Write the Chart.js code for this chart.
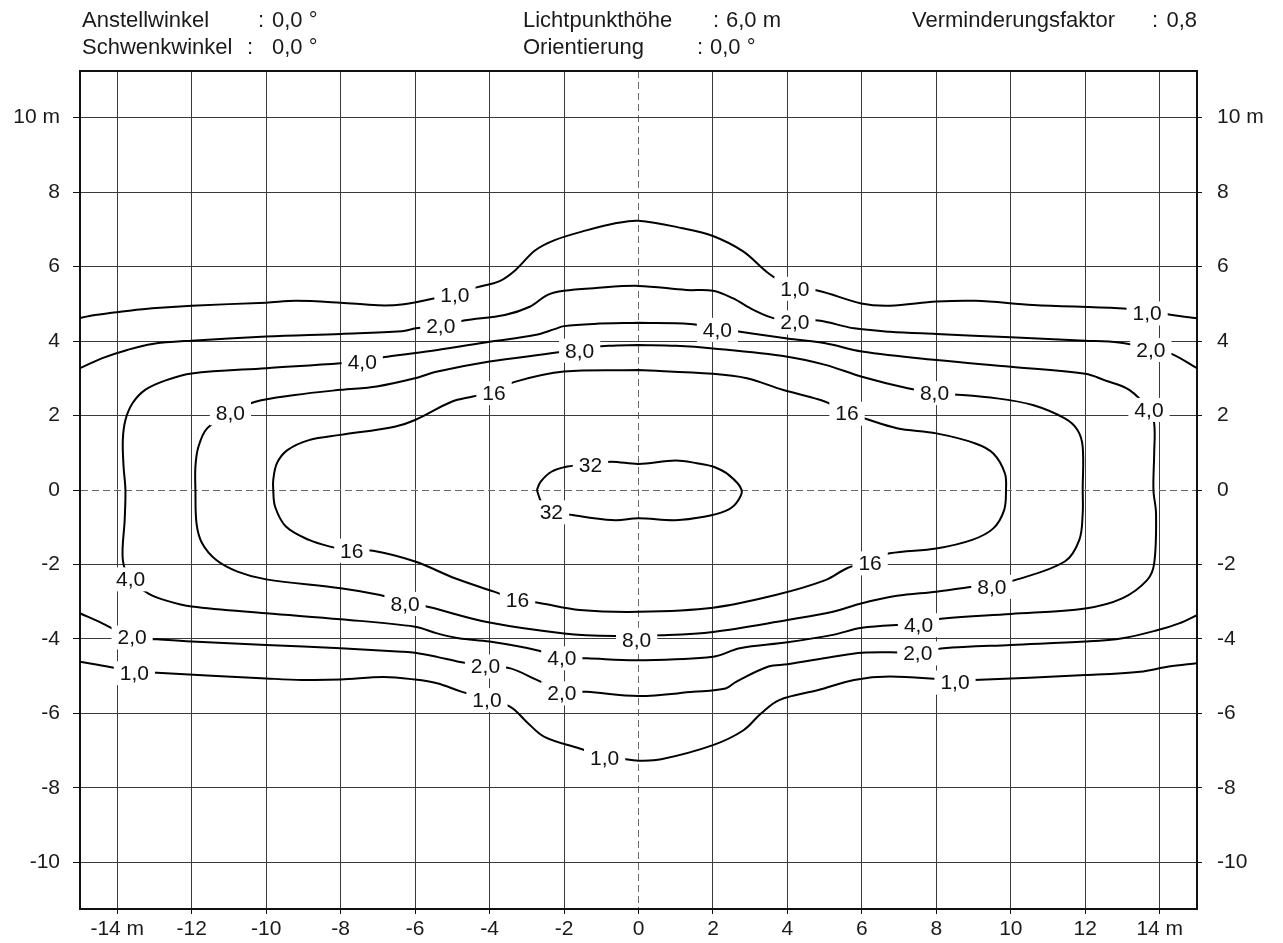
<!DOCTYPE html>
<html lang="de">
<head>
<meta charset="utf-8">
<title>Isolux-Diagramm</title>
<script src="https://cdn.jsdelivr.net/npm/chart.js@4.4.1/dist/chart.umd.min.js"></script>
<style>
  html, body { margin: 0; padding: 0; background: #fff; }
  #wrap { position: relative; width: 1283px; height: 943px; }
  #wrap canvas { position: absolute; left: 0; top: 0; }
  .hd { position: absolute; font: 22px "Liberation Sans", Arial, sans-serif; line-height: 22px; color: #1a1a1a; white-space: pre; }
</style>
</head>
<body>
<div id="wrap">
  <canvas id="iso" width="1283" height="943"></canvas>
  <div class="hd" style="left:82px;top:9px">Anstellwinkel</div>
  <div class="hd" style="left:258px;top:9px">:</div>
  <div class="hd" style="left:272px;top:9px">0,0 °</div>
  <div class="hd" style="left:82px;top:36px">Schwenkwinkel</div>
  <div class="hd" style="left:247px;top:36px">:</div>
  <div class="hd" style="left:272px;top:36px">0,0 °</div>
  <div class="hd" style="left:523px;top:9px">Lichtpunkthöhe</div>
  <div class="hd" style="left:713px;top:9px">:</div>
  <div class="hd" style="left:726px;top:9px">6,0 m</div>
  <div class="hd" style="left:523px;top:36px">Orientierung</div>
  <div class="hd" style="left:697px;top:36px">:</div>
  <div class="hd" style="left:710px;top:36px">0,0 °</div>
  <div class="hd" style="left:912px;top:9px">Verminderungsfaktor</div>
  <div class="hd" style="left:1152px;top:9px">:</div>
  <div class="hd" style="right:86px;top:9px">0,8</div>
</div>
<script>
// Achsen
const xTicks = [-14, -12, -10, -8, -6, -4, -2, 0, 2, 4, 6, 8, 10, 12, 14];
const yTicks = [-10, -8, -6, -4, -2, 0, 2, 4, 6, 8, 10];

// Isolinien (x, y in m)
const c1Top = [[-15,4.62],[-14.6,4.70],[-13.8,4.80],[-13.06,4.88],[-12,4.95],[-10,5.03],[-9.2,5.08],[-8,5.03],[-7,4.96],[-6.36,4.98],[-5.6,5.12],[-4.93,5.26],[-4.35,5.44],[-3.73,5.61],[-3.3,5.91],[-2.78,6.43],[-2.25,6.71],[-1.4,6.97],[-0.62,7.16],[0,7.23],[1.18,7.03],[2,6.82],[2.82,6.4],[3.49,5.82],[4.16,5.42],[4.83,5.35],[5.98,5.01],[6.75,4.95],[8,5.06],[9.05,5.08],[10.6,4.97],[12.9,4.88],[13.66,4.80],[14.33,4.70],[15,4.61]];
const c1Bottom = [[-15,-4.61],[-14.2,-4.75],[-13.54,-4.88],[-12.93,-4.91],[-10,-5.06],[-9.04,-5.1],[-8,-5.09],[-6.84,-5.02],[-6,-5.09],[-5.41,-5.19],[-4.74,-5.42],[-4.07,-5.62],[-3.44,-5.82],[-3.01,-6.22],[-2.54,-6.62],[-1.58,-6.94],[-0.91,-7.15],[-0.19,-7.25],[0,-7.27],[0.61,-7.23],[2,-6.85],[2.82,-6.45],[3.29,-6.0],[3.78,-5.64],[4.83,-5.37],[5.79,-5.1],[6.75,-5.01],[8.4,-5.1],[9.01,-5.1],[12,-4.97],[13.47,-4.88],[14.24,-4.74],[15,-4.65]];
const c2Top = [[-15,3.27],[-14.4,3.54],[-13.73,3.76],[-13.06,3.92],[-12,4.01],[-10,4.12],[-8,4.19],[-6.36,4.26],[-5.98,4.34],[-5.31,4.42],[-4.69,4.55],[-3.59,4.7],[-2.92,4.92],[-2.44,5.24],[-2,5.35],[-1.2,5.42],[0,5.48],[1.28,5.37],[2,5.35],[2.53,5.15],[3.1,4.83],[3.7,4.6],[4.83,4.55],[5.79,4.34],[6.75,4.25],[8,4.19],[10,4.1],[12,4.01],[12.9,3.96],[13.76,3.8],[14.33,3.65],[15,3.27]];
const c2Bottom = [[-15,-3.31],[-14.4,-3.58],[-13.6,-3.96],[-12.93,-4.01],[-12,-4.07],[-10,-4.16],[-8,-4.25],[-6.36,-4.34],[-6,-4.37],[-5.41,-4.48],[-4.83,-4.61],[-4.11,-4.72],[-3.44,-4.79],[-2.73,-5.1],[-2.06,-5.4],[-1.39,-5.42],[0,-5.53],[1.47,-5.42],[2.34,-5.33],[2.62,-5.15],[3.49,-4.74],[4,-4.68],[5.22,-4.48],[6,-4.37],[7.52,-4.35],[8.19,-4.25],[10,-4.16],[12,-4.07],[13,-3.98],[13.95,-3.76],[14.52,-3.58],[15,-3.36]];
const c4 = [[0,4.49],[-1.2,4.46],[-2,4.4],[-2.25,4.32],[-2.78,4.16],[-4,3.98],[-5.4,3.76],[-6.75,3.58],[-7.42,3.47],[-8,3.4],[-10,3.27],[-12,3.13],[-12.68,2.95],[-13.25,2.69],[-13.59,2.33],[-13.78,1.88],[-13.85,1.34],[-13.83,0.63],[-13.78,0],[-13.8,-0.8],[-13.85,-1.88],[-13.64,-2.4],[-13.16,-2.78],[-12.68,-2.97],[-12,-3.13],[-10,-3.31],[-8,-3.47],[-6,-3.67],[-5.41,-3.85],[-4.83,-3.98],[-4,-4.07],[-2.73,-4.3],[-2.06,-4.5],[-1.39,-4.52],[0,-4.57],[2,-4.48],[2.72,-4.25],[4,-4.09],[5.22,-3.89],[6,-3.7],[7.52,-3.58],[8.19,-3.45],[10,-3.33],[12,-3.18],[12.99,-2.91],[13.66,-2.42],[13.85,-1.97],[13.9,-0.63],[13.83,0],[13.85,0.98],[13.85,1.79],[13.71,2.15],[13.18,2.69],[12.51,2.95],[12,3.12],[10,3.31],[8,3.49],[6,3.72],[5.02,3.94],[4,4.07],[2.1,4.34],[1.38,4.46],[0,4.49]];
const c8 = [[0,3.89],[-0.8,3.87],[-1.58,3.8],[-2.2,3.69],[-4,3.45],[-5.4,3.18],[-6,3.0],[-7.03,2.78],[-8,2.69],[-9.23,2.55],[-10.29,2.37],[-10.96,2.06],[-11.58,1.66],[-11.82,1.16],[-11.9,0.63],[-11.9,0],[-11.87,-0.9],[-11.72,-1.43],[-11.34,-1.88],[-10.77,-2.19],[-10,-2.4],[-8,-2.64],[-6.94,-2.82],[-6.27,-3.0],[-5.6,-3.15],[-4,-3.56],[-2,-3.85],[-0.62,-3.92],[0.61,-3.9],[2,-3.81],[4,-3.49],[5.22,-3.27],[6,-3.04],[6.94,-2.84],[8,-2.73],[8.86,-2.61],[9.49,-2.55],[10.11,-2.42],[11.45,-1.92],[11.84,-1.34],[11.93,-0.63],[11.93,0],[11.93,1.16],[11.79,1.61],[11.45,1.92],[10.59,2.28],[9.63,2.46],[7.9,2.62],[7.23,2.73],[6,3.04],[5.02,3.36],[4,3.58],[2,3.8],[1,3.87],[0,3.89]];
const c16 = [[0,3.22],[-2,3.18],[-3.3,2.91],[-3.88,2.65],[-4.45,2.51],[-5.02,2.37],[-6,1.88],[-6.55,1.7],[-8,1.48],[-8.85,1.34],[-9.43,1.07],[-9.71,0.72],[-9.81,0.27],[-9.81,0],[-9.76,-0.45],[-9.47,-0.98],[-8.85,-1.34],[-8.28,-1.52],[-7.7,-1.63],[-7.13,-1.63],[-6,-1.92],[-4.93,-2.37],[-3.88,-2.73],[-3.25,-2.95],[-2.63,-3.04],[-1.58,-3.22],[0,-3.27],[2,-3.16],[3.68,-2.82],[5.02,-2.42],[5.6,-2.1],[6.22,-1.9],[6.75,-1.7],[8,-1.57],[8.96,-1.34],[9.53,-1.03],[9.82,-0.54],[9.87,0],[9.84,0.45],[9.53,0.98],[9.05,1.25],[8,1.52],[6.94,1.66],[6.08,1.92],[5.55,2.1],[5.02,2.37],[3.87,2.69],[2.91,3.0],[2,3.12],[0,3.22]];
const c32 = [[-2.73,0],[-2.63,0.22],[-2.34,0.49],[-1.91,0.63],[-1.29,0.7],[-0.72,0.76],[0,0.7],[0.99,0.79],[1.57,0.72],[2,0.63],[2.43,0.4],[2.77,0],[2.62,-0.36],[2.34,-0.56],[1.76,-0.72],[0.99,-0.81],[0,-0.76],[-0.62,-0.81],[-1.39,-0.73],[-1.77,-0.67],[-2.34,-0.6],[-2.6,-0.35],[-2.73,0]];

// Beschriftung der Linien
const labelText = ["1,0","2,0","4,0","8,0","16","8,0","32","1,0","2,0","4,0","8,0","16","1,0","2,0","4,0",
                   "4,0","2,0","1,0","16","8,0","16","32","2,0","1,0","4,0","2,0","1,0","8,0","16","8,0","4,0","2,0","1,0"];
const labelX = [-4.93,-5.31,-7.42,-10.96,-3.88,-1.58,-1.29,4.2,4.2,2.12,7.95,5.6,13.66,13.76,13.71,
                -13.64,-13.6,-13.54,-7.7,-6.27,-3.25,-2.34,-4.11,-4.07,-2.06,-2.06,-0.91,-0.05,6.22,9.49,7.52,7.5,8.5];
const labelY = [5.24,4.39,3.42,2.06,2.6,3.74,0.67,5.4,4.5,4.3,2.6,2.05,4.74,3.76,2.15,
                -2.4,-3.96,-4.92,-1.63,-3.06,-2.95,-0.6,-4.74,-5.64,-4.52,-5.46,-7.21,-4.02,-1.97,-2.6,-3.63,-4.39,-5.17];

const contours = [c1Top, c1Bottom, c2Top, c2Bottom, c4, c8, c16, c32];

const FONT = { family: '"Liberation Sans", Arial, sans-serif', size: 21 };

const gridColor = ctx => (ctx.tick && ctx.tick.value === 0) ? '#6a6a6a' : '#3a3a3a';
const zeroDash = ctx => (ctx.tick && ctx.tick.value === 0) ? [7, 4] : [];

const contourLabels = {
  id: 'contourLabels',
  afterDatasetsDraw(chart) {
    const ctx = chart.ctx;
    const sx = chart.scales.x, sy = chart.scales.y;
    ctx.save();
    ctx.font = FONT.size + 'px ' + FONT.family;
    ctx.textAlign = 'center';
    ctx.textBaseline = 'middle';
    labelText.forEach((t, i) => {
      const px = sx.getPixelForValue(labelX[i]);
      const py = sy.getPixelForValue(labelY[i]);
      const w = ctx.measureText(t).width;
      ctx.fillStyle = '#fff';
      ctx.fillRect(px - w / 2 - 6, py - 12, w + 12, 24);
      ctx.fillStyle = '#111';
      ctx.fillText(t, px, py + 1);
    });
    ctx.restore();
  }
};

new Chart(document.getElementById('iso'), {
  type: 'scatter',
  data: {
    datasets: contours.map(pts => ({
      data: pts.map(p => ({ x: p[0], y: p[1] })),
      showLine: true,
      borderColor: '#000',
      borderWidth: 2,
      pointRadius: 0,
      tension: 0.35,
      fill: false
    }))
  },
  options: {
    responsive: false,
    animation: false,
    events: [],
    layout: { padding: 0 },
    plugins: { legend: { display: false }, tooltip: { enabled: false } },
    scales: {
      x: {
        type: 'linear', position: 'bottom', min: -15, max: 15,
        afterBuildTicks: s => { s.ticks = xTicks.map(v => ({ value: v })); },
        afterFit: s => { s.height = 34; },
        grid: { color: gridColor, lineWidth: 1, tickLength: 5, tickColor: '#111' },
        border: { color: '#111', width: 2, dash: zeroDash },
        ticks: { font: FONT, color: '#1a1a1a', padding: 3, maxRotation: 0, autoSkip: false,
                 callback: v => (v === -14 || v === 14) ? v + ' m' : String(v) }
      },
      x2: {
        type: 'linear', position: 'top', min: -15, max: 15,
        afterFit: s => { s.height = 71; },
        grid: { drawOnChartArea: false, drawTicks: false },
        border: { color: '#111', width: 2 },
        ticks: { display: false }
      },
      y: {
        type: 'linear', position: 'left', min: -11.25, max: 11.25,
        afterBuildTicks: s => { s.ticks = yTicks.map(v => ({ value: v })); },
        afterFit: s => { s.width = 80; },
        grid: { color: gridColor, lineWidth: 1, tickLength: 7, tickColor: '#111' },
        border: { color: '#111', width: 2, dash: zeroDash },
        ticks: { font: FONT, color: '#1a1a1a', padding: 13, autoSkip: false,
                 callback: v => v === 10 ? '10 m' : String(v) }
      },
      y2: {
        type: 'linear', position: 'right', min: -11.25, max: 11.25,
        afterBuildTicks: s => { s.ticks = yTicks.map(v => ({ value: v })); },
        afterFit: s => { s.width = 86; },
        grid: { drawOnChartArea: false, tickLength: 5, tickColor: '#111' },
        border: { color: '#111', width: 2 },
        ticks: { font: FONT, color: '#1a1a1a', padding: 15, autoSkip: false,
                 callback: v => v === 10 ? '10 m' : String(v) }
      }
    }
  },
  plugins: [contourLabels]
});
</script>
</body>
</html>
